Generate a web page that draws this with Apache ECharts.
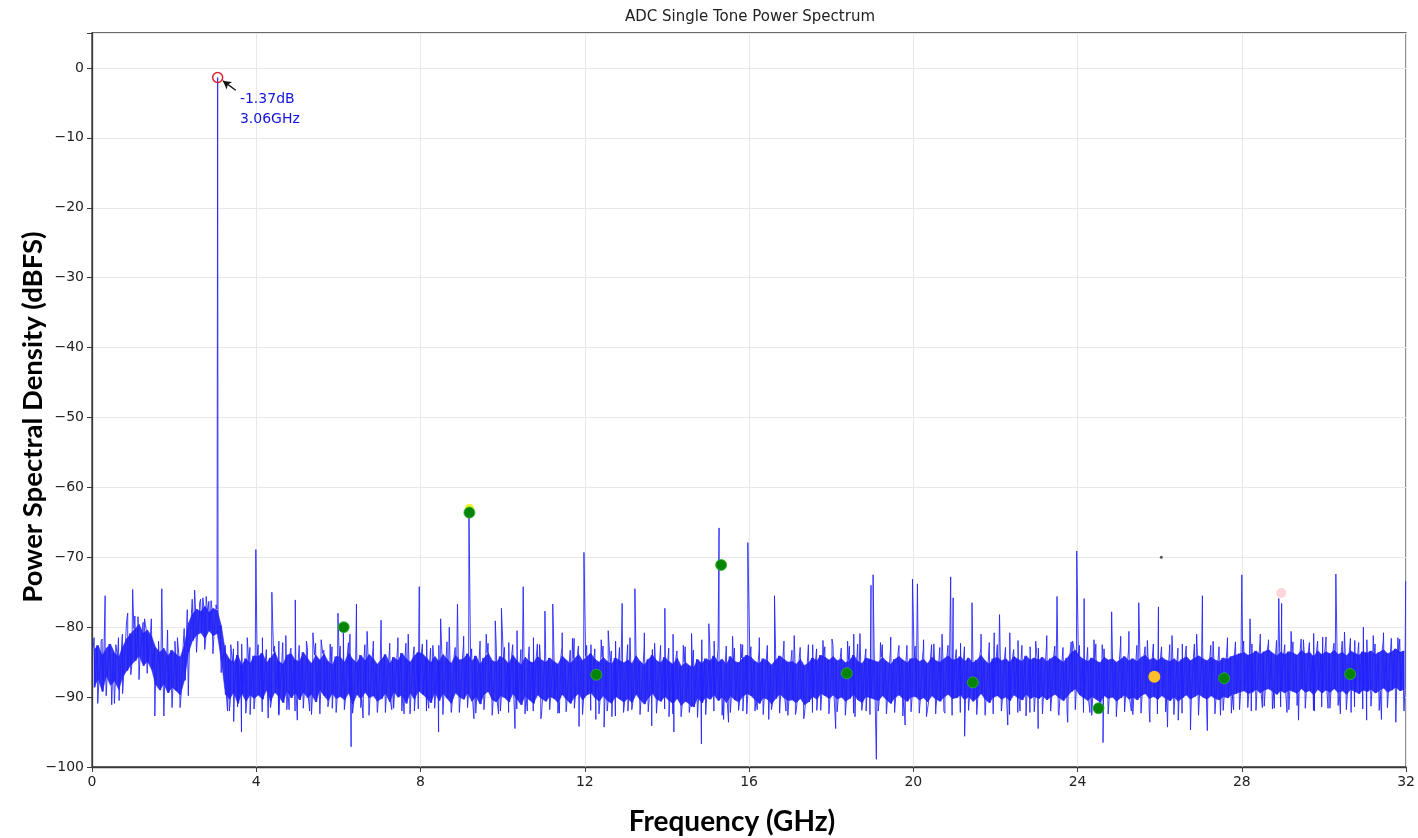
<!DOCTYPE html>
<html>
<head>
<meta charset="utf-8">
<script src="https://cdn.jsdelivr.net/npm/echarts@6/dist/echarts.min.js"></script>
<style>
html,body{margin:0;padding:0;background:#fff;}
#chart{width:1418px;height:838px;}
</style>
</head>
<body>
<div id="chart"></div>
<script>
// ---------- DATA ----------
const BIN_GHZ = 0.1;
// upper edge of the dense noise core, one value per 0.1 GHz bin (0 .. 32 GHz)
const noiseHi = [
-83.2,-82.6,-84.1,-83.0,-82.4,-83.7,-84.3,-82.8,-81.6,-80.9,
-80.2,-79.6,-80.9,-80.4,-81.3,-82.9,-83.6,-83.0,-84.1,-83.3,
-83.9,-84.3,-82.6,-79.4,-78.1,-77.4,-77.8,-77.0,-77.9,-77.3,
-77.6,-79.8,-83.6,-84.6,-85.1,-84.0,-85.4,-84.5,-85.2,-84.1,
-84.2,-83.7,-85.1,-84.4,-83.5,-84.9,-85.3,-84.0,-83.8,-84.7,
-84.9,-83.6,-84.5,-85.2,-84.0,-84.7,-83.8,-84.9,-85.4,-84.2,
-84.3,-85.0,-83.7,-84.6,-85.1,-84.0,-84.8,-83.9,-84.5,-85.3,
-84.6,-83.9,-85.2,-84.3,-84.8,-83.7,-84.5,-85.0,-84.1,-83.6,
-83.8,-84.4,-85.1,-84.2,-84.9,-83.9,-84.6,-85.2,-84.0,-84.7,
-84.5,-83.8,-84.9,-84.1,-85.3,-84.4,-83.7,-84.8,-85.0,-84.2,
-84.6,-85.2,-84.0,-84.8,-85.4,-84.3,-84.9,-85.1,-84.2,-84.7,
-85.0,-84.4,-84.9,-85.3,-84.1,-84.7,-85.2,-84.5,-83.9,-84.8,
-84.2,-83.8,-84.6,-85.0,-84.3,-84.9,-85.3,-84.4,-84.8,-85.1,
-84.7,-85.2,-84.1,-84.9,-85.4,-84.6,-84.0,-84.8,-85.1,-84.3,
-84.9,-85.3,-84.4,-85.6,-85.0,-85.5,-85.8,-84.6,-85.2,-84.5,
-84.8,-84.1,-85.0,-84.6,-85.3,-84.2,-84.9,-85.1,-84.4,-84.0,
-84.3,-84.9,-85.2,-84.5,-84.8,-85.4,-84.7,-84.1,-84.6,-85.0,
-84.9,-85.3,-84.6,-85.5,-85.1,-84.4,-84.8,-84.0,-84.3,-84.7,
-84.2,-84.8,-84.5,-85.1,-84.7,-84.0,-84.9,-85.2,-84.4,-84.6,
-84.8,-85.0,-84.3,-84.9,-85.3,-84.6,-84.2,-84.7,-85.1,-84.5,
-84.4,-84.9,-84.6,-85.2,-84.3,-84.8,-85.0,-84.5,-84.1,-84.7,
-84.6,-84.2,-84.9,-84.4,-85.1,-84.7,-84.0,-84.8,-85.3,-84.5,
-84.3,-84.8,-84.5,-85.0,-84.2,-84.6,-84.9,-84.1,-84.7,-84.4,
-84.7,-84.3,-84.9,-84.5,-84.1,-84.6,-85.0,-84.4,-83.6,-83.3,
-84.2,-84.6,-84.9,-84.4,-84.8,-85.1,-84.3,-84.7,-84.5,-85.0,
-84.6,-84.2,-84.8,-84.5,-84.9,-84.3,-84.0,-84.7,-84.4,-84.8,
-84.3,-84.7,-84.9,-84.5,-85.0,-84.6,-84.2,-84.8,-84.4,-84.1,
-84.5,-84.8,-84.3,-84.7,-84.9,-84.4,-84.6,-84.2,-84.0,-83.8,
-83.6,-84.0,-83.8,-83.4,-83.9,-83.5,-83.2,-83.7,-84.1,-83.6,
-83.9,-83.5,-83.7,-84.0,-83.3,-83.8,-83.6,-84.2,-83.4,-83.9,
-83.5,-83.8,-83.3,-83.9,-83.6,-84.1,-83.4,-83.7,-84.0,-83.5,
-83.7,-83.4,-83.9,-83.6,-83.2,-83.8,-83.5,-83.1,-83.6,-83.4
];
// lower edge of the dense noise core, one value per 0.1 GHz bin
const noiseLo = [
-88.6,-87.4,-89.2,-87.0,-88.3,-87.7,-88.9,-87.1,-86.2,-85.4,
-84.8,-84.1,-85.5,-84.9,-86.0,-88.2,-89.0,-88.1,-89.4,-88.6,
-89.1,-89.7,-87.6,-83.6,-81.9,-81.1,-80.8,-81.6,-80.5,-81.2,
-80.9,-84.8,-89.6,-90.3,-89.3,-90.9,-89.5,-90.6,-89.7,-90.2,
-89.7,-90.3,-89.0,-90.6,-89.3,-89.9,-90.8,-89.1,-90.1,-89.4,
-90.4,-89.3,-90.1,-89.6,-90.7,-89.0,-89.8,-90.5,-89.5,-90.2,
-89.9,-90.4,-89.4,-91.0,-89.6,-90.3,-89.3,-90.1,-89.8,-90.6,
-90.2,-89.5,-90.7,-89.2,-90.0,-89.7,-90.9,-89.4,-90.3,-89.1,
-89.6,-90.1,-90.8,-89.3,-90.5,-89.5,-90.2,-90.9,-89.4,-90.0,
-90.3,-89.4,-90.6,-89.9,-91.0,-89.6,-89.2,-90.4,-90.7,-89.8,
-90.1,-90.7,-89.5,-90.3,-91.1,-89.8,-90.4,-90.9,-89.7,-90.2,
-90.6,-89.9,-90.2,-90.8,-89.6,-90.3,-90.9,-90.0,-89.5,-90.4,
-89.7,-89.4,-90.1,-90.6,-89.8,-90.5,-90.9,-89.9,-90.3,-90.7,
-90.2,-90.8,-89.6,-90.4,-91.0,-90.1,-89.5,-90.3,-90.6,-89.9,
-90.5,-90.9,-90.2,-91.2,-90.6,-91.0,-91.4,-90.1,-90.8,-90.0,
-90.3,-89.7,-90.5,-90.0,-90.8,-89.8,-90.4,-90.7,-89.9,-89.5,
-89.8,-90.4,-90.9,-90.1,-90.3,-91.0,-90.2,-89.6,-90.1,-90.5,
-90.4,-90.8,-90.2,-91.1,-90.7,-89.9,-90.3,-89.5,-89.8,-90.2,
-89.7,-90.3,-90.0,-90.6,-90.2,-89.6,-90.4,-90.8,-89.9,-90.1,
-90.3,-90.5,-89.8,-90.4,-90.9,-90.1,-89.7,-90.2,-90.6,-90.0,
-89.9,-90.4,-90.1,-90.7,-89.8,-90.3,-90.6,-90.0,-89.6,-90.2,
-90.1,-89.7,-90.4,-89.9,-90.6,-90.2,-89.5,-90.3,-90.8,-90.0,
-89.8,-90.3,-90.0,-90.5,-89.7,-90.1,-90.4,-89.6,-90.2,-89.9,
-90.2,-89.8,-90.4,-90.0,-89.6,-90.1,-90.5,-89.9,-89.2,-88.8,
-89.7,-90.1,-90.5,-89.9,-90.3,-90.7,-89.8,-90.2,-90.0,-90.6,
-90.1,-89.7,-90.3,-90.0,-90.4,-89.8,-89.5,-90.2,-89.9,-90.3,
-89.8,-90.2,-90.5,-90.0,-90.6,-90.1,-89.7,-90.3,-89.9,-89.6,
-90.0,-90.3,-89.8,-90.2,-90.4,-89.9,-90.1,-89.7,-89.5,-89.3,
-89.1,-89.5,-89.3,-88.9,-89.4,-89.0,-88.8,-89.2,-89.6,-89.1,
-89.4,-89.0,-89.2,-89.5,-88.8,-89.3,-89.1,-89.7,-88.9,-89.4,
-89.0,-89.3,-88.8,-89.4,-89.1,-89.6,-88.9,-89.2,-89.5,-89.0,
-89.2,-88.9,-89.4,-89.1,-88.7,-89.3,-89.0,-88.6,-89.1,-88.9
];
const EDGE_BIN_GHZ = 0.2;
// outer (lighter) upper fringe of the noise, one value per 0.2 GHz
const edgeHi = [
-82.1,-81.7,-82.4,-81.5,-79.0,-78.4,-79.3,-78.8,-81.8,-82.3,
-82.0,-80.2,-76.6,-76.0,-76.3,-77.4,-82.6,-83.1,-82.4,-82.9,
-82.5,-83.2,-82.7,-82.2,-83.0,-82.6,-82.9,-82.3,-83.3,-82.8,
-82.7,-82.2,-83.1,-82.5,-82.9,-82.4,-83.2,-82.6,-82.3,-82.8,
-82.4,-83.0,-82.6,-82.1,-82.9,-82.5,-83.1,-82.7,-82.3,-82.8,
-82.9,-82.5,-83.2,-82.8,-82.4,-83.0,-82.6,-82.9,-83.3,-82.7,
-82.6,-83.1,-82.7,-83.4,-82.9,-82.5,-83.0,-82.8,-83.2,-82.6,
-83.0,-83.4,-82.8,-83.3,-82.9,-82.6,-83.1,-82.7,-83.0,-82.5,
-82.8,-83.2,-82.6,-83.0,-82.7,-83.3,-82.9,-82.5,-83.1,-82.8,
-82.6,-83.0,-82.7,-82.4,-83.1,-82.8,-82.5,-83.0,-82.9,-82.6,
-82.7,-83.1,-82.5,-82.9,-82.6,-83.2,-82.8,-82.4,-83.0,-82.7,
-82.5,-82.9,-83.2,-82.6,-82.8,-83.0,-82.4,-82.7,-82.9,-82.1,
-82.6,-82.9,-82.4,-83.1,-82.7,-82.5,-83.0,-82.6,-82.8,-82.4,
-82.8,-82.5,-83.0,-82.7,-82.4,-82.9,-82.6,-82.8,-82.3,-82.1,
-82.0,-82.4,-81.8,-82.3,-81.9,-82.5,-82.1,-81.7,-82.2,-82.0,
-81.9,-82.3,-82.0,-81.6,-82.2,-81.8,-82.4,-81.9,-82.1,-81.7
];
// outer (lighter) lower fringe of the noise, one value per 0.2 GHz
const edgeLo = [
-90.4,-89.8,-90.9,-89.5,-86.8,-87.5,-86.6,-88.2,-91.2,-90.7,
-91.5,-89.8,-83.6,-83.2,-83.8,-86.5,-92.0,-91.4,-92.3,-91.7,
-92.1,-91.5,-92.4,-91.8,-92.0,-91.6,-92.5,-91.9,-91.4,-92.2,
-91.8,-92.3,-91.5,-92.6,-91.9,-92.2,-91.6,-92.0,-92.4,-91.7,
-92.0,-91.6,-92.5,-91.9,-92.2,-91.5,-92.3,-91.8,-92.6,-92.0,
-92.2,-91.7,-92.4,-92.0,-92.6,-91.8,-92.3,-92.1,-91.6,-92.5,
-91.9,-92.4,-92.0,-92.7,-92.2,-91.8,-92.5,-92.1,-92.3,-91.7,
-92.4,-92.8,-92.2,-92.9,-92.5,-92.0,-92.6,-92.2,-91.9,-92.4,
-92.0,-92.5,-91.8,-92.3,-92.6,-92.1,-92.7,-92.2,-91.9,-92.4,
-92.1,-92.6,-92.3,-91.9,-92.5,-92.0,-92.4,-92.2,-92.7,-92.1,
-92.3,-91.8,-92.4,-92.0,-92.6,-92.2,-91.9,-92.5,-92.1,-92.4,
-92.0,-92.5,-92.2,-92.7,-92.1,-92.4,-92.0,-92.6,-92.2,-91.8,
-92.2,-92.6,-92.0,-92.4,-92.8,-92.1,-92.5,-92.3,-92.0,-92.4,
-92.1,-92.5,-92.3,-92.0,-92.6,-92.2,-92.4,-91.9,-92.3,-91.8,
-91.5,-91.9,-91.3,-91.7,-91.4,-91.8,-91.2,-91.6,-91.9,-91.4,
-91.6,-91.2,-91.8,-91.4,-91.7,-91.3,-91.9,-91.5,-91.2,-91.6
];
// small upward noise excursions (GHz, dBFS)
const fringeF = [0.05,0.22,0.58,0.74,1.12,1.28,1.45,1.62,2.02,2.08,2.32,2.44,2.62,2.70,2.90,3.02,3.38,3.55,3.78,4.15,4.55,4.72,5.22,5.38,5.58,5.80,6.28,6.70,6.85,7.25,7.45,7.70,8.15,8.30,8.70,9.05,9.45,9.60,10.15,10.35,10.75,10.90,11.45,11.74,12.15,12.40,12.75,13.10,13.45,13.70,14.15,14.40,14.85,15.15,15.60,15.80,16.25,16.45,16.85,17.10,17.55,17.80,18.02,18.40,18.55,19.20,19.45,19.65,20.25,20.50,20.70,21.15,21.65,21.85,22.35,22.55,22.98,23.25,23.88,24.40,24.60,25.05,25.25,25.70,26.30,26.55,26.90,27.30,27.65,27.85,28.45,28.65,29.20,29.50,29.75,30.05,30.50,30.75,31.20,31.45,31.80];
const fringeV = [-81.5,-82.0,-82.5,-81.0,-78.5,-78.8,-80.5,-82.0,-82.0,-81.5,-77.5,-76.0,-76.5,-75.8,-76.2,-76.8,-82.5,-82.0,-81.5,-81.5,-82.0,-81.2,-82.0,-80.8,-81.8,-82.4,-81.0,-80.6,-82.0,-82.3,-81.5,-81.0,-81.8,-82.6,-80.0,-81.3,-82.0,-81.0,-82.2,-80.5,-81.5,-82.5,-80.8,-81.6,-82.5,-81.8,-82.0,-81.5,-80.8,-82.3,-81.0,-82.6,-81.8,-82.0,-81.3,-82.4,-81.5,-82.8,-82.0,-81.2,-82.5,-81.9,-81.7,-82.0,-81.0,-82.2,-81.4,-82.6,-81.8,-82.4,-81.0,-82.3,-81.0,-82.2,-80.8,-81.9,-82.0,-81.2,-82.0,-81.8,-82.5,-81.3,-80.6,-81.9,-81.2,-82.4,-81.0,-82.0,-81.5,-82.3,-81.0,-81.8,-80.6,-81.8,-80.9,-81.4,-80.7,-81.9,-81.2,-80.8,-81.5];
// downward noise excursions (GHz, dBFS)
const dipF = [0.14,0.48,0.66,1.53,1.75,1.95,2.14,3.30,3.45,3.64,3.85,4.29,4.55,4.80,5.00,5.30,5.55,5.85,6.31,6.60,6.95,7.30,7.60,7.85,8.20,8.44,8.75,9.30,9.55,9.90,10.30,10.60,10.93,11.38,11.86,12.27,12.47,12.66,13.05,13.63,14.05,14.17,14.60,14.84,15.38,15.50,15.85,16.20,16.48,16.90,17.13,17.33,17.65,18.11,18.58,18.85,19.10,19.35,19.80,20.32,20.55,20.77,21.25,21.75,22.30,22.60,22.84,23.04,23.53,23.76,24.30,24.62,24.95,25.31,25.55,25.76,26.19,26.45,26.75,27.16,27.48,27.80,28.23,28.50,28.79,29.10,29.38,29.77,30.10,30.40,30.66,31.04,31.40,31.75,31.95];
const dipV = [-90.9,-91.1,-90.5,-92.7,-92.7,-91.5,-90.3,-92.0,-93.5,-95.0,-92.5,-93.0,-92.6,-91.8,-93.3,-92.0,-92.4,-91.6,-97.1,-93.0,-92.2,-91.8,-92.4,-92.0,-91.6,-95.0,-92.2,-93.1,-91.8,-92.4,-94.5,-92.0,-93.1,-92.3,-94.2,-93.2,-94.3,-92.8,-92.0,-94.1,-92.8,-95.0,-91.4,-96.7,-93.2,-93.6,-92.0,-91.8,-93.2,-92.0,-92.5,-93.1,-91.9,-94.5,-92.8,-92.0,-98.9,-92.0,-94.0,-92.8,-91.7,-92.3,-95.6,-92.6,-94.0,-92.0,-92.2,-94.5,-92.0,-93.6,-92.2,-96.5,-92.0,-92.0,-91.8,-93.6,-94.3,-93.3,-94.7,-94.8,-92.6,-91.8,-92.0,-91.5,-91.6,-92.2,-93.3,-92.0,-91.6,-92.4,-92.2,-93.3,-93.2,-93.6,-92.0];
// spurs (GHz, dBFS)
const spurF = [0.32,0.87,0.99,1.23,1.35,1.70,1.84,2.50,2.78,3.99,4.38,4.95,5.99,6.12,6.44,7.04,7.97,8.49,8.90,9.18,9.82,9.97,10.50,11.03,11.22,11.70,11.98,12.57,12.91,13.22,13.95,14.60,15.02,15.27,15.97,16.62,18.70,18.97,19.02,19.98,20.10,20.91,20.97,21.43,21.97,22.10,23.50,23.98,24.16,24.83,25.49,25.97,27.04,28.00,28.20,28.90,28.97,29.97,30.29,30.96,31.64,31.99];
const spurV = [-75.5,-78.0,-74.6,-79.9,-81.0,-74.5,-80.4,-74.7,-75.6,-68.9,-75.0,-76.1,-78.0,-80.0,-76.7,-79.0,-74.2,-78.8,-76.7,-63.6,-79.1,-77.3,-74.2,-77.7,-76.7,-81.6,-69.3,-80.5,-76.6,-74.5,-77.3,-80.9,-79.5,-65.8,-67.9,-75.5,-80.9,-74.0,-72.5,-73.1,-73.8,-72.8,-75.8,-76.5,-80.8,-78.2,-75.6,-69.1,-75.9,-77.8,-76.5,-77.1,-75.5,-72.5,-78.8,-75.9,-76.6,-81.4,-72.4,-80.0,-81.6,-73.4];
// fundamental tone
const toneF = 3.06;
const toneV = -1.37;
const toneLabel = ['-1.37dB', '3.06GHz'];
// harmonic markers (green)
const harmF = [6.13, 9.19, 12.28, 15.32, 18.38, 21.45, 24.51, 27.57, 30.64];
const harmV = [-80.0, -63.6, -86.8, -71.1, -86.6, -87.9, -91.6, -87.3, -86.7];
// other markers
const yellowPt = [9.19, -63.0];
const orangePt = [25.87, -87.1];
const pinkPt = [28.96, -75.1];
const darkPt = [26.04, -70.0];
// axis ticks
const xTicks = [0, 4, 8, 12, 16, 20, 24, 28, 32];
const yTicks = [0, -10, -20, -30, -40, -50, -60, -70, -80, -90, -100];
const titleText = 'ADC Single Tone Power Spectrum';
const xName = 'Frequency (GHz)';
const yName = 'Power Spectral Density (dBFS)';

// ---------- build series data from the arrays ----------
const pts = [];
for (let i = 0; i < noiseHi.length; i++) {
  pts.push([i * BIN_GHZ + 0.02, noiseHi[i]]);
  pts.push([i * BIN_GHZ + 0.07, noiseLo[i]]);
}
for (let j = 0; j < edgeHi.length; j++) {
  pts.push([j * EDGE_BIN_GHZ + 0.045, edgeHi[j]]);
  pts.push([j * EDGE_BIN_GHZ + 0.145, edgeLo[j]]);
}
fringeF.forEach((f, i) => pts.push([f, fringeV[i]]));
dipF.forEach((f, i) => pts.push([f, dipV[i]]));
spurF.forEach((f, i) => pts.push([f, spurV[i]]));
pts.push([toneF, toneV]);
pts.sort((a, b) => a[0] - b[0]);

// dense core band between noiseLo and noiseHi: [freq, lo, hi]
const coreBins = noiseHi.map((h, i) => [i * BIN_GHZ + 0.05, noiseLo[i], h]);

const minus = v => String(v).replace('-', '\u2212');

const chart = echarts.init(document.getElementById('chart'), null, {renderer: 'canvas'});
const option = {
  animation: false,
  backgroundColor: '#ffffff',
  grid: {left: 92, right: 9, top: 33, bottom: 71, show: true, borderColor: '#3a3a3a', borderWidth: 1.3, backgroundColor: 'transparent'},
  xAxis: {
    type: 'value', min: xTicks[0], max: xTicks[xTicks.length - 1], interval: 4,
    axisLine: {show: true, onZero: false, lineStyle: {color: '#3a3a3a', width: 1.3}},
    axisTick: {show: true, length: 5, lineStyle: {color: '#3a3a3a'}},
    axisLabel: {color: '#222', fontFamily: 'DejaVu Sans', fontSize: 14, margin: 8, formatter: v => minus(v)},
    splitLine: {show: true, lineStyle: {color: '#e8e8e8', width: 1}}
  },
  yAxis: {
    type: 'value', min: yTicks[yTicks.length - 1], max: 5, interval: 10,
    axisLine: {show: true, onZero: false, lineStyle: {color: '#3a3a3a', width: 1.3}},
    axisTick: {show: true, length: 5, lineStyle: {color: '#3a3a3a'}},
    axisLabel: {color: '#222', fontFamily: 'DejaVu Sans', fontSize: 14, margin: 8,
      formatter: v => (yTicks.indexOf(v) >= 0 ? minus(v) : '')},
    splitLine: {show: true, lineStyle: {color: '#e8e8e8', width: 1}}
  },
  graphic: [
    {type: 'text', position: [750, 17], style: {text: titleText, fill: '#222', font: '15px "DejaVu Sans"', textAlign: 'center', textVerticalAlign: 'middle'}},
    {type: 'text', position: [732, 822], style: {text: xName, fill: '#000', font: 'bold 28px Lato', textAlign: 'center', textVerticalAlign: 'middle'}},
    {type: 'text', position: [33, 417], rotation: Math.PI / 2, style: {text: yName, fill: '#000', font: 'bold 27.5px Lato', textAlign: 'center', textVerticalAlign: 'middle'}}
  ],
  series: [
    {
      type: 'custom', data: coreBins, silent: true, z: 1, clip: true,
      encode: {x: 0, y: [1, 2]},
      renderItem: function (params, api) {
        const i = params.dataIndex;
        if (i >= coreBins.length - 1) return null;
        const a = coreBins[i], b = coreBins[i + 1];
        const p1 = api.coord([a[0], a[2]]);
        const p2 = api.coord([b[0], b[2]]);
        const p3 = api.coord([b[0], b[1]]);
        const p4 = api.coord([a[0], a[1]]);
        return {
          type: 'polygon', shape: {points: [p1, p2, p3, p4]},
          style: {fill: '#2424f2', stroke: '#2424f2', lineWidth: 0.6, opacity: 0.92}
        };
      }
    },
    {
      type: 'line', data: pts, showSymbol: false, symbol: 'none', sampling: null,
      lineStyle: {color: '#2020ff', width: 1, opacity: 0.85}, z: 2, silent: true
    },
    {type: 'scatter', data: [yellowPt], symbolSize: 9, itemStyle: {color: '#f2f22a', opacity: 1}, z: 4},
    {type: 'scatter', data: harmF.map((f, i) => [f, harmV[i]]), symbolSize: 11, itemStyle: {color: '#068406', borderColor: '#2fb52f', borderWidth: 0.8, opacity: 1}, z: 5},
    {type: 'scatter', data: [orangePt], symbolSize: 12, itemStyle: {color: '#ffbf2a', opacity: 1}, z: 5},
    {type: 'scatter', data: [pinkPt], symbolSize: 10, itemStyle: {color: '#ffd5dc', opacity: 1}, z: 5},
    {type: 'scatter', data: [darkPt], symbolSize: 3, itemStyle: {color: '#555', opacity: 1}, z: 5},
    {
      type: 'scatter', data: [[toneF, toneV]], symbolSize: 10,
      itemStyle: {color: 'rgba(255,255,255,0)', borderColor: '#e0202e', borderWidth: 1.5, opacity: 1}, z: 6,
      label: {show: true, position: [28, 18], formatter: toneLabel.join('\n'), color: '#1414dc',
        fontFamily: 'DejaVu Sans', fontSize: 14, lineHeight: 20, align: 'left', verticalAlign: 'top'},
      markLine: {
        silent: true, symbol: ['none', 'arrow'], symbolSize: [7, 8],
        lineStyle: {color: '#111', width: 1.3, type: 'solid'}, label: {show: false},
        data: [[{coord: [3.50, -3.2]}, {coord: [3.19, -1.85]}]]
      }
    }
  ]
};
chart.setOption(option);
</script>
</body>
</html>
